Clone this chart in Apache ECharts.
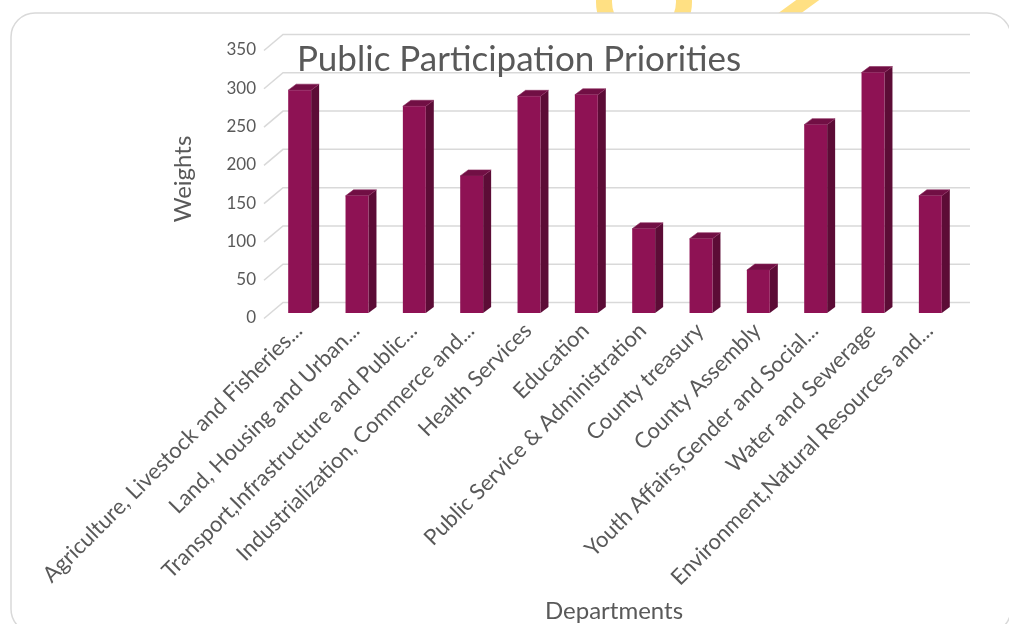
<!DOCTYPE html>
<html>
<head>
<meta charset="utf-8">
<script src="https://cdn.jsdelivr.net/npm/echarts@6/dist/echarts.min.js"></script>
<style>
html,body{margin:0;padding:0;background:#fff;}
#chart{width:1009px;height:624px;}
</style>
</head>
<body>
<div id="chart"></div>
<script>
const categories = [
  "Agriculture, Livestock and Fisheries...",
  "Land, Housing and Urban...",
  "Transport,Infrastructure and Public...",
  "Industrialization, Commerce and...",
  "Health Services",
  "Education",
  "Public Service & Administration",
  "County treasury",
  "County Assembly",
  "Youth Affairs,Gender and Social...",
  "Water and Sewerage",
  "Environment,Natural Resources and..."
];
const weights = [291, 153, 270, 179, 283, 285, 110, 97, 56, 246, 314, 153];
const yTicks = [0, 50, 100, 150, 200, 250, 300, 350];

const TXT = '#595959';
const FONT = 'Lato';

const chart = echarts.init(document.getElementById('chart'), null, {renderer: 'canvas'});

function gridRender(params, api) {
  const v = api.value(1);
  const p = api.coord([0, v]);
  const cs = params.coordSys;
  const y = p[1];
  return {
    type: 'polyline',
    shape: { points: [[cs.x - 6, y + 5.5], [cs.x + 13, y - 10.5], [cs.x + cs.width + 12, y - 10.5]] },
    style: { stroke: '#d9d9d9', lineWidth: 1.5, fill: null },
    z2: 0
  };
}

function barRender(params, api) {
  const i = api.value(0);
  const v = api.value(1);
  const top = api.coord([i, v]);
  const base = api.coord([i, 0]);
  const w = api.size([1, 0])[0] * 0.4;
  const dx = 8, dy = -6;
  const x0 = top[0] - w / 2 + 1, x1 = x0 + w;
  const yt = top[1], yb = base[1];
  return {
    type: 'group',
    children: [
      { type: 'polygon', shape: { points: [[x1, yt], [x1 + dx, yt + dy], [x1 + dx, yb + dy], [x1, yb]] },
        style: { fill: '#5c0c36' } },
      { type: 'polygon', shape: { points: [[x0, yt], [x1, yt], [x1 + dx, yt + dy], [x0 + dx, yt + dy]] },
        style: { fill: '#710f44', stroke: '#8a2a5c', lineWidth: 0.6 } },
      { type: 'rect', shape: { x: x0, y: yt, width: w, height: yb - yt },
        style: { fill: '#8e1254' } }
    ]
  };
}

const option = {
  backgroundColor: 'transparent',
  animation: false,
  graphic: [
    { type: 'ring', shape: { cx: 644, cy: 2, r: 48, r0: 32 }, style: { fill: '#ffe083' }, z: -30 },
    { type: 'polygon', shape: { points: [[777, 14], [800, 14], [822, -2], [799, -2]] }, style: { fill: '#ffe083' }, z: -30 },
    { type: 'rect', shape: { x: 11, y: 13, width: 1000, height: 620, r: 24 },
      style: { fill: '#ffffff', stroke: '#d9d9d9', lineWidth: 1.5 }, z: -20 }
  ],
  title: {
    text: 'Public Participation Priorities',
    left: 292, top: 37,
    textStyle: { fontFamily: FONT, fontSize: 35, fontWeight: 'normal', color: TXT }
  },
  grid: { left: 270, right: 51, top: 45, bottom: 311, containLabel: false, outerBoundsMode: 'none' },
  xAxis: {
    type: 'category',
    data: categories,
    name: 'Departments',
    nameLocation: 'middle',
    nameGap: 286,
    nameTextStyle: { fontFamily: FONT, fontSize: 24, color: TXT },
    axisLine: { show: false },
    axisTick: { show: false },
    splitLine: { show: false },
    axisLabel: { interval: 0, rotate: 45, margin: 14, fontFamily: FONT, fontSize: 22, color: TXT }
  },
  yAxis: {
    type: 'value',
    min: 0, max: 350, interval: 50,
    name: 'Weights',
    nameLocation: 'middle',
    nameGap: 75,
    nameTextStyle: { fontFamily: FONT, fontSize: 24, color: TXT },
    axisLine: { show: false },
    axisTick: { show: false },
    splitLine: { show: false },
    axisLabel: { margin: 14, fontFamily: FONT, fontSize: 17, color: TXT, verticalAlign: 'top', lineHeight: 10 }
  },
  series: [
    { type: 'custom', name: 'grid', renderItem: gridRender, data: yTicks.map(v => [0, v]),
      encode: { x: 0, y: 1 }, silent: true, z: 1 },
    { type: 'custom', name: 'Weights', renderItem: barRender, data: weights.map((v, i) => [i, v]),
      encode: { x: 0, y: 1 }, z: 2 }
  ]
};
chart.setOption(option);
</script>
</body>
</html>
